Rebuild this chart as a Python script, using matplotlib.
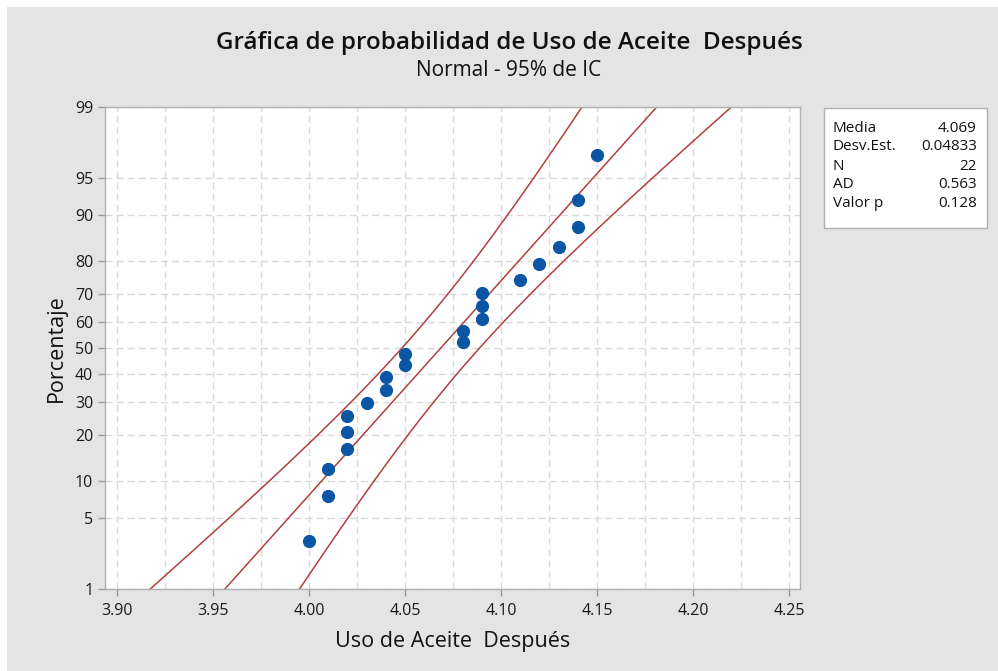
import matplotlib.pyplot as plt
import numpy as np
from matplotlib.patches import Rectangle
from statistics import NormalDist

plt.rcParams["font.family"] = ["Open Sans", "DejaVu Sans"]

# data
valores = [4.00, 4.01, 4.01, 4.02, 4.02, 4.02, 4.03, 4.04, 4.04, 4.05, 4.05,
           4.08, 4.08, 4.09, 4.09, 4.09, 4.11, 4.12, 4.13, 4.14, 4.14, 4.15]
pct_ticks = [1, 5, 10, 20, 30, 40, 50, 60, 70, 80, 90, 95, 99]
x_ticks = [3.90, 3.95, 4.00, 4.05, 4.10, 4.15, 4.20, 4.25]
ad_stat = 0.563
p_valor = 0.128

nd = NormalDist()
x = np.sort(np.array(valores))
n = len(x)
media = x.mean()
desv = x.std(ddof=1)

# median ranks (Benard)
p = (np.arange(1, n + 1) - 0.3) / (n + 0.4)
z_pts = np.array([nd.inv_cdf(v) for v in p])

z_lo, z_hi = nd.inv_cdf(0.01), nd.inv_cdf(0.99)
z_line = np.linspace(z_lo - 0.3, z_hi + 0.3, 200)
x_fit = media + desv * z_line
se = desv * np.sqrt(1 / n + z_line**2 / (2 * n))
x_low = x_fit - 1.96 * se
x_up = x_fit + 1.96 * se

W, H = 998, 671
fig = plt.figure(figsize=(W / 100, H / 100), dpi=100, facecolor="white")
fig.patches.append(Rectangle((7 / W, 0), 1, (H - 7) / H, transform=fig.transFigure,
                             facecolor="#e4e4e4", edgecolor="none", zorder=-10))

ax = fig.add_axes([105 / W, (H - 589) / H, 695 / W, 482 / H])
ax.set_facecolor("white")

grid_x = np.arange(3.90, 4.2501, 0.025)
for gx in grid_x:
    ax.axvline(gx, color="#d9d9d9", lw=1, ls=(0, (5, 3)), zorder=0)
for t in pct_ticks:
    ax.axhline(nd.inv_cdf(t / 100), color="#d9d9d9", lw=1, ls=(0, (5, 3)), zorder=0)

red = "#b0403f"
ax.plot(x_fit, z_line, color=red, lw=1.1, zorder=2)
ax.plot(x_low, z_line, color=red, lw=1.1, zorder=2)
ax.plot(x_up, z_line, color=red, lw=1.1, zorder=2)
ax.plot(x, z_pts, "o", color="#0b55a5", ms=8.5, mec="#0b55a5", zorder=3)

ax.set_xlim(3.90 - 12 / 1920, 4.25 + 11 / 1920)
ax.set_ylim(z_lo, z_hi)
ax.set_xticks(x_ticks)
ax.set_xticklabels([f"{v:.2f}" for v in x_ticks])
ax.set_yticks([nd.inv_cdf(t / 100) for t in pct_ticks])
ax.set_yticklabels([str(t) for t in pct_ticks])
ax.tick_params(colors="#9a9a9a", labelcolor="#1a1a1a", labelsize=11.5, length=5, width=1)
ax.tick_params(axis="x", pad=5)
for s in ax.spines.values():
    s.set_color("#b0b0b0")
    s.set_linewidth(1)

ax.set_xlabel("Uso de Aceite  Después", fontsize=15.5, color="#111111", labelpad=9)
ax.set_ylabel("Porcentaje", fontsize=15.5, color="#111111", labelpad=6)

fig.text(509 / W, 1 - 43 / H, "Gráfica de probabilidad de Uso de Aceite  Después",
         ha="center", va="center", fontsize=17.5, fontweight="semibold", color="#111111")
fig.text(509 / W, 1 - 71 / H, "Normal - 95% de IC", ha="center", va="center",
         fontsize=15, color="#111111")

# stats box
fig.patches.append(Rectangle((824 / W, 1 - 228 / H), 163 / W, 120 / H,
                             transform=fig.transFigure, facecolor="white",
                             edgecolor="#b0b0b0", lw=1))
etiquetas = ["Media", "Desv.Est.", "N", "AD", "Valor p"]
numeros = [f"{media:.3f}", f"{desv:.5f}", f"{n}", f"{ad_stat:.3f}", f"{p_valor:.3f}"]
for i, (e, v) in enumerate(zip(etiquetas, numeros)):
    yy = 1 - (128 + 19 * i) / H
    fig.text(833 / W, yy, e, ha="left", va="center", fontsize=11, color="#111111")
    fig.text(977 / W, yy, v, ha="right", va="center", fontsize=11, color="#111111")

fig.savefig("out.png", dpi=100, facecolor="white")
